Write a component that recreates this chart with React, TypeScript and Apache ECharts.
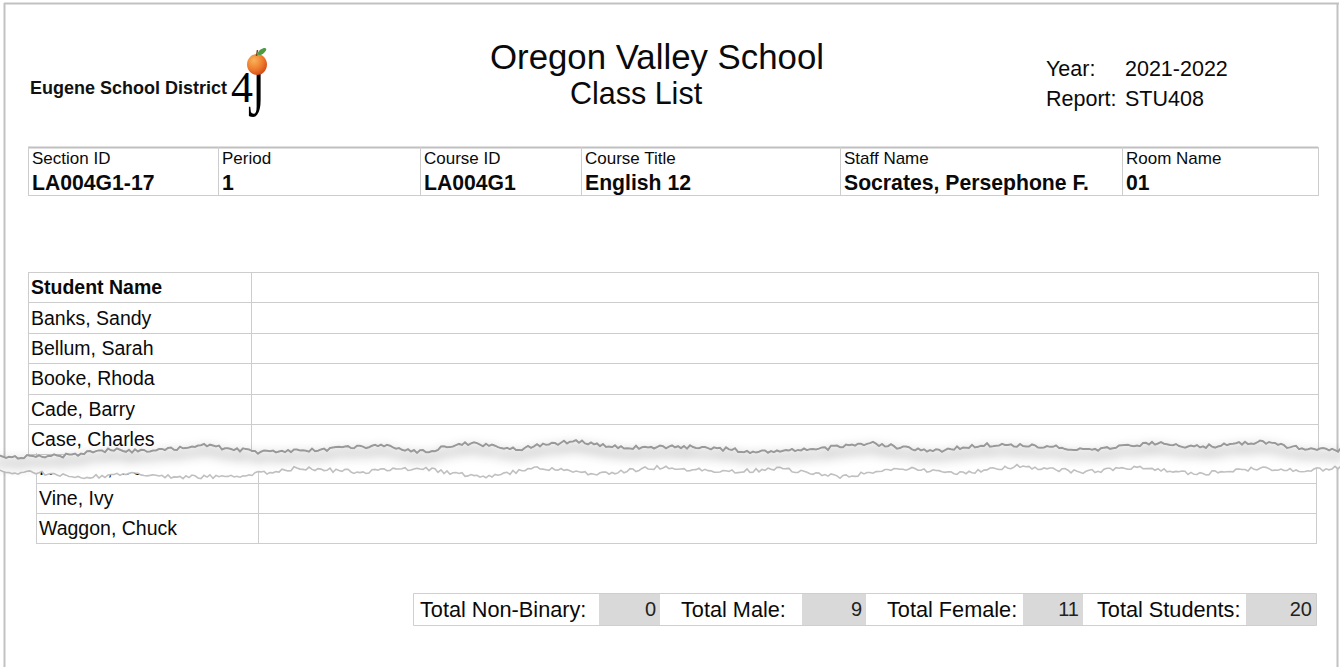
import React, { useEffect, useRef } from "react";
import * as echarts from "echarts";

// ---- data ----
const districtName = "Eugene School District";
const schoolName = "Oregon Valley School";
const reportTitle = "Class List";
const metaLabels = ["Year:", "Report:"];
const metaValues = ["2021-2022", "STU408"];
const infoLabels = ["Section ID", "Period", "Course ID", "Course Title", "Staff Name", "Room Name"];
const infoValues = ["LA004G1-17", "1", "LA004G1", "English 12", "Socrates, Persephone F.", "01"];
const studentHeader = "Student Name";
const studentsTop = ["Banks, Sandy", "Bellum, Sarah", "Booke, Rhoda", "Cade, Barry", "Case, Charles"];
const studentsBottom = ["Roberts, Cole", "Vine, Ivy", "Waggon, Chuck"];
const totalLabels = ["Total Non-Binary:", "Total Male:", "Total Female:", "Total Students:"];
const totalValues = [0, 9, 11, 20];

const SANS = '"Liberation Sans", Arial, sans-serif';
const SERIF = '"Liberation Serif", "Times New Roman", serif';
const GRID = "#cdcdcd";

function txt(text: string, x: number, y: number, size: number, o: any = {}) {
  const el: any = {
    type: "text",
    x,
    y,
    z: o.z ?? 2,
    silent: true,
    style: {
      text,
      font: `${o.weight || "normal"} ${size}px ${o.family || SANS}`,
      fill: o.fill || "#0a0a0a",
      textAlign: o.align || "left",
      textVerticalAlign: o.valign || "middle",
    },
  };
  if (o.scaleX) el.scaleX = o.scaleX;
  if (o.scaleY) el.scaleY = o.scaleY;
  return el;
}
function hl(x1: number, x2: number, y: number, color = GRID, w = 1, z = 1) {
  return { type: "line", z, silent: true, shape: { x1, y1: y + 0.5, x2, y2: y + 0.5 }, style: { stroke: color, lineWidth: w } };
}
function vl(x: number, y1: number, y2: number, color = GRID, w = 1, z = 1) {
  return { type: "line", z, silent: true, shape: { x1: x + 0.5, y1, x2: x + 0.5, y2 }, style: { stroke: color, lineWidth: w } };
}

// deterministic jagged edge for the torn-paper decoration
function tearEdge(ctrl: number[][], seed: number) {
  const pts: number[][] = [];
  for (let x = -6; x <= 1346; x += 3) {
    let i = 0;
    while (i < ctrl.length - 2 && ctrl[i + 1][0] < x) i++;
    const [xa, ya] = ctrl[i];
    const [xb, yb] = ctrl[i + 1];
    const t = Math.max(0, Math.min(1, (x - xa) / (xb - xa)));
    const base = ya + (yb - ya) * t;
    const h = Math.sin(x * 12.9898 + seed * 78.233) * 43758.5453;
    const j = (h - Math.floor(h) - 0.5) * 4;
    pts.push([x, base + j]);
  }
  return pts;
}

export default function App() {
  const ref = useRef<HTMLDivElement>(null);
  useEffect(() => {
    if (!ref.current) return;
    const chart = echarts.init(ref.current, undefined, { renderer: "svg" });
    const els: any[] = [];

    // page frame
    els.push(hl(4, 1339, 3, "#c2c2c2", 2, 0));
    els.push(vl(4, 3, 667, "#c2c2c2", 2, 0));
    els.push(vl(1337, 3, 667, "#c2c2c2", 2, 0));

    // logo
    els.push(txt(districtName, 30, 88, 18, { weight: "bold", fill: "#111" }));
    els.push(txt("4", 231, 87, 44, { family: SERIF, fill: "#000" }));
    els.push(txt("J", 248, 53, 43, { family: SERIF, fill: "#000", valign: "top", scaleY: 1.75 }));
    els.push({
      type: "ellipse",
      z: 3,
      silent: true,
      shape: { cx: 257, cy: 64.5, rx: 10, ry: 10.5 },
      style: {
        fill: new echarts.graphic.RadialGradient(0.35, 0.3, 0.75, [
          { offset: 0, color: "#f9b35a" },
          { offset: 0.6, color: "#ee7a2c" },
          { offset: 1, color: "#cf4a18" },
        ]),
      },
    });
    els.push({ type: "line", z: 3, silent: true, shape: { x1: 256.5, y1: 56, x2: 257.5, y2: 50 }, style: { stroke: "#7a4a1e", lineWidth: 1.5 } });
    els.push({
      type: "ellipse",
      z: 3,
      silent: true,
      x: 262,
      y: 51.5,
      rotation: Math.PI / 5,
      shape: { cx: 0, cy: 0, rx: 5, ry: 2.4 },
      style: { fill: "#4f9a45" },
    });

    // titles
    els.push(txt(schoolName, 657, 56, 34.8, { align: "center" }));
    els.push(txt(reportTitle, 636, 93, 30.5, { align: "center" }));
    els.push(txt(metaLabels[0], 1046, 69, 21.5));
    els.push(txt(metaValues[0], 1125, 69, 21.5));
    els.push(txt(metaLabels[1], 1046, 99, 21.5));
    els.push(txt(metaValues[1], 1125, 99, 21.5));

    // info table
    const infoX = [28, 218, 420, 581, 840, 1122];
    const infoR = 1318;
    els.push(hl(28, infoR, 147, "#c0c0c0", 2));
    els.push(hl(28, infoR, 195));
    els.push(vl(28, 147, 196));
    els.push(vl(infoR, 147, 196));
    infoX.forEach((x, i) => {
      if (i > 0) els.push(vl(x, 147, 196));
      els.push(txt(infoLabels[i], x + 4, 158, 17));
      els.push(txt(infoValues[i], x + 4, 182, 21.2, { weight: "bold" }));
    });

    // student table (upper part)
    const rowH = 30.4;
    const topY = 272;
    const uL = 28, uR = 1318, uC = 251;
    els.push(hl(uL, uR, topY));
    for (let r = 0; r <= studentsTop.length; r++) {
      const y0 = topY + r * rowH;
      els.push(hl(uL, uR, Math.round(y0 + rowH)));
      const name = r === 0 ? studentHeader : studentsTop[r - 1];
      els.push(txt(name, uL + 3, y0 + rowH / 2, 19.5, r === 0 ? { weight: "bold" } : {}));
    }
    els.push(vl(uL, topY, topY + rowH * 6));
    els.push(vl(uC, topY, topY + rowH * 6));
    els.push(vl(uR, topY, topY + rowH * 6));

    // student table (lower part)
    const lL = 36, lR = 1316, lC = 258;
    const lTop = 453;
    studentsBottom.forEach((name, i) => {
      const y0 = lTop + i * 30;
      els.push(hl(lL, lR, y0 + 30));
      els.push(txt(name, lL + 3, y0 + 15, 19.5));
    });
    els.push(vl(lL, lTop, lTop + 91));
    els.push(vl(lC, lTop, lTop + 91));
    els.push(vl(lR, lTop, lTop + 91));

    // totals
    const tY = 593, tH = 32;
    const labelX = [413, 660, 866, 1083];
    const valX = [599, 802, 1023, 1246];
    const valEnd = [660, 866, 1083, 1316];
    els.push({ type: "rect", z: 1, silent: true, shape: { x: 413.5, y: tY + 0.5, width: 1316 - 413, height: tH }, style: { fill: "#fff", stroke: "#cfcfcf", lineWidth: 1 } });
    totalLabels.forEach((lab, i) => {
      els.push({ type: "rect", z: 1, silent: true, shape: { x: valX[i], y: tY + 1, width: valEnd[i] - valX[i], height: tH - 1 }, style: { fill: "#d9d9d9" } });
      els.push(txt(lab, labelX[i] + (i === 0 ? 7 : i === 3 ? 14 : 21), tY + tH / 2, 21.7));
      els.push(txt(String(totalValues[i]), valEnd[i] - 4, tY + tH / 2, 20, { align: "right", fill: "#222" }));
    });

    // torn-paper decoration
    const upper = tearEdge(
      [[-6, 457], [60, 456], [110, 450], [150, 452], [200, 445], [260, 452], [330, 449], [380, 445], [420, 452], [470, 443], [520, 449], [570, 441], [620, 447], [700, 447], [760, 452], [820, 449], [870, 443], [930, 452], [980, 445], [1040, 446], [1100, 450], [1150, 443], [1200, 447], [1260, 442], [1300, 448], [1346, 450]],
      1
    );
    const lower = tearEdge(
      [[-6, 472], [40, 473], [90, 477], [130, 474], [180, 477], [240, 476], [300, 468], [360, 472], [420, 468], [480, 477], [540, 468], [600, 474], [660, 467], [720, 472], [780, 469], [840, 477], [900, 468], [960, 473], [1020, 466], [1080, 472], [1140, 468], [1200, 474], [1260, 468], [1300, 471], [1346, 467]],
      2
    );
    els.push({
      type: "polygon",
      z: 10,
      silent: true,
      shape: { points: upper.concat(lower.slice().reverse()) },
      style: { fill: "#fff" },
    });
    els.push({
      type: "polyline",
      z: 11,
      silent: true,
      shape: { points: lower },
      style: { stroke: "#c0c0c0", lineWidth: 1.6, fill: "none" },
    });
    els.push({
      type: "polyline",
      z: 12,
      silent: true,
      shape: { points: upper },
      style: { stroke: "#999", lineWidth: 2, fill: "none", shadowBlur: 12, shadowColor: "rgba(0,0,0,0.7)", shadowOffsetY: 6 },
    });

    chart.setOption({ animation: false, backgroundColor: "#fff", graphic: { elements: els } });
    return () => chart.dispose();
  }, []);
  return <div ref={ref} style={{ position: "fixed", left: 0, top: 0, width: 1340, height: 667, background: "#fff" }} />;
}
